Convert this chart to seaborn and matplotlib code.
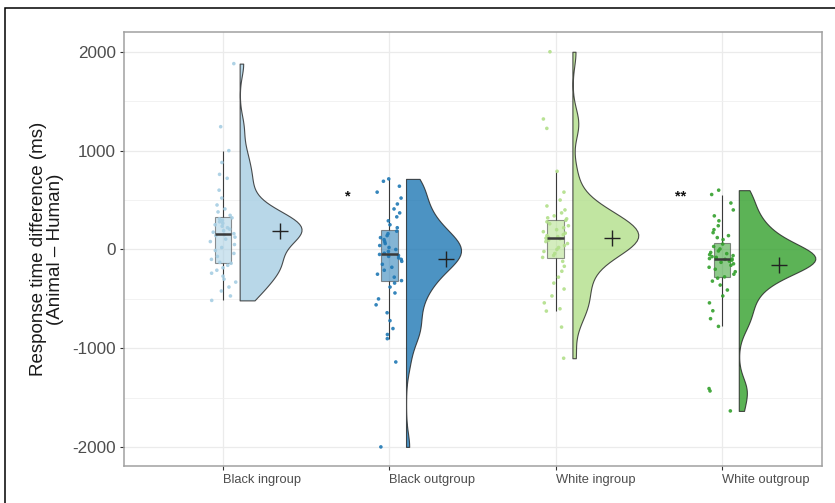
import numpy as np
import pandas as pd
import seaborn as sns
import matplotlib.pyplot as plt
import matplotlib.transforms as mtransforms
from matplotlib.patches import Rectangle
from matplotlib.ticker import MultipleLocator

# group names + Paired colours
groups = ["Black ingroup", "Black outgroup", "White ingroup", "White outgroup"]
colors = ["#a6cee3", "#1f78b4", "#b2df8a", "#33a02c"]

black_in = [-515, -470, -420, -380, -330, -300, -270, -240, -210, -185, -160, -140,
            -130, -100, -70, -40, -10, 20, 50, 80, 105, 125, 140, 150,
            160, 175, 190, 205, 220, 235, 250, 265, 280, 295, 310, 320,
            345, 380, 410, 450, 520, 600, 720, 760, 880, 1000, 1242, 1880]
black_out = [-1997, -1138, -902, -860, -800, -720, -640, -560, -500, -440, -380, -340,
             -315, -280, -250, -210, -180, -150, -120, -100, -85, -70, -60, -50,
             -38, -20, 0, 20, 40, 60, 80, 100, 120, 140, 160, 185,
             220, 250, 290, 330, 370, 410, 460, 520, 580, 640, 690, 714]
white_in = [-1100, -785, -623, -600, -540, -470, -400, -340, -280, -220, -170, -120,
            -80, -60, -40, -20, 0, 20, 40, 60, 80, 95, 108, 114,
            122, 130, 140, 150, 165, 180, 200, 220, 240, 260, 280, 295,
            310, 320, 340, 370, 400, 440, 500, 580, 791, 1225, 1320, 2000]
white_out = [-1633, -1431, -1407, -778, -700, -620, -540, -470, -410, -360, -320, -290,
             -277, -250, -225, -200, -180, -160, -145, -130, -118, -108, -100, -96,
             -92, -88, -80, -72, -62, -52, -42, -30, -15, 5, 30, 55,
             100, 120, 140, 170, 200, 240, 290, 340, 400, 470, 556, 600]

# significance marks between pairs
stars = ["*", "**"]
star_x = [0.75, 2.75]
star_y = [535, 535]

yticks = [-2000, -1000, 0, 1000, 2000]

sns.set_theme(style="white")
plt.rcParams['font.family'] = ['Liberation Sans', 'DejaVu Sans']

vals = [black_in, black_out, white_in, white_out]
df = pd.DataFrame({
    "group": np.repeat(groups, [len(v) for v in vals]),
    "rt": np.concatenate(vals).astype(float),
})
VW = 0.46  # violin width
idx = {g: i for i, g in enumerate(groups)}
df["xpos"] = df["group"].map(idx).astype(float)
# split halves get drawn from (x - width/2), so push them to start 0.1 right of the box
df["xviol"] = df["xpos"] + 0.1 + VW / 2
df["xmean"] = df["xpos"] + 0.34

# padding hue levels so every real group is drawn as the right half of a split violin
hue_order = []
pal = {}
for i, g in enumerate(groups):
    hue_order += ["_pad%d" % i, g]
    pal["_pad%d" % i] = colors[i]
    pal[g] = colors[i]

fig, ax = plt.subplots(figsize=(8.35, 5.03), dpi=100)
fig.subplots_adjust(left=0.1485, right=0.9844, top=0.9364, bottom=0.0736)

sns.violinplot(data=df, x="xviol", y="rt", hue="group", hue_order=hue_order,
               palette=pal, native_scale=True, split=True, dodge=False,
               inner=None, cut=0, density_norm="area", common_norm=True,
               bw_adjust=0.6, width=VW, linewidth=0.8, linecolor="#222222",
               saturation=1, alpha=0.8, legend=False, ax=ax)

sns.boxplot(data=df, x="xpos", y="rt", hue="group", hue_order=groups,
            palette=colors, native_scale=True, dodge=False, width=0.1,
            showfliers=False, showcaps=False, saturation=1,
            linewidth=0.8, linecolor="#3a3a3a",
            boxprops=dict(alpha=0.55), medianprops=dict(linewidth=1.8, zorder=5),
            legend=False, ax=ax)

np.random.seed(7)
sns.stripplot(data=df, x="xpos", y="rt", hue="group", hue_order=groups,
              palette=colors, native_scale=True, dodge=False, jitter=0.08,
              size=2.6, alpha=0.9, linewidth=0, legend=False, ax=ax)

sns.pointplot(data=df, x="xmean", y="rt", native_scale=True, estimator="mean",
              errorbar=None, color="#222222", marker="+", linestyle="none",
              markersize=11, markeredgewidth=1.0, ax=ax)

for s, xs, ys in zip(stars, star_x, star_y):
    ax.text(xs, ys, s, ha="center", va="center", fontsize=10.5,
            fontweight="bold", color="#111111")

ax.set_xlim(-0.595, 3.6)
ax.set_ylim(-2190, 2200)
ax.set_xticks(range(len(groups)))
ax.set_xticklabels(groups, ha="left", fontsize=9.3, color="#4d4d4d")
shift = mtransforms.ScaledTranslation(6 / 72, 0, fig.dpi_scale_trans)
for lab in ax.get_xticklabels():
    lab.set_transform(lab.get_transform() + shift)
ax.set_yticks(yticks)
ax.set_yticklabels([str(t) for t in yticks], fontsize=12.3, color="#4d4d4d")
ax.yaxis.set_minor_locator(MultipleLocator(500))
ax.tick_params(axis="both", which="major", direction="out", length=3,
               width=0.8, color="#333333", pad=3, bottom=True, left=True)
ax.tick_params(axis="y", which="minor", length=0)

ax.set_axisbelow(True)
ax.grid(True, which="major", color="#ebebeb", linewidth=0.9)
ax.grid(True, which="minor", axis="y", color="#f0f0f0", linewidth=0.6)
for sp in ax.spines.values():
    sp.set_color("#a0a0a0")
    sp.set_linewidth(1.1)

ax.set_xlabel("")
ax.set_ylabel("Response time difference (ms)\n(Animal \u2013 Human)",
              fontsize=13.5, color="#1a1a1a", linespacing=1.0, labelpad=6)

# outer frame of the original figure
fig.add_artist(Rectangle((5 / 835, -0.2), 1.2, 1.2 - 7.5 / 503,
                         transform=fig.transFigure, fill=False,
                         edgecolor="black", linewidth=1.1))

fig.savefig("out.png", dpi=100)
